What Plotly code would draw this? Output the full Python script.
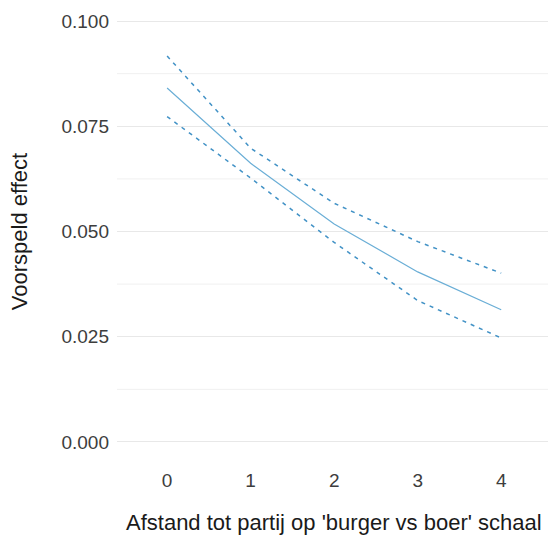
import plotly.graph_objects as go

x_vals = [0, 1, 2, 3, 4]
fit = [0.0841, 0.0662, 0.0518, 0.0404, 0.0314]
upper = [0.0917, 0.0698, 0.0567, 0.0476, 0.0401]
lower = [0.0773, 0.0627, 0.0474, 0.0336, 0.0247]
y_ticks = [0.0, 0.025, 0.05, 0.075, 0.1]
y_labels = ["0.000", "0.025", "0.050", "0.075", "0.100"]
minor_ticks = [0.0125, 0.0375, 0.0625, 0.0875]
x_title = "Afstand tot partij op 'burger vs boer' schaal"
y_title = "Voorspeld effect"

fig = go.Figure()
fig.add_trace(go.Scatter(x=x_vals, y=upper, mode="lines",
                         line=dict(color="#4292c6", width=1.5, dash="4px,5px")))
fig.add_trace(go.Scatter(x=x_vals, y=lower, mode="lines",
                         line=dict(color="#4292c6", width=1.5, dash="4px,5px")))
fig.add_trace(go.Scatter(x=x_vals, y=fit, mode="lines",
                         line=dict(color="#6aaed6", width=1.2)))

for m in minor_ticks:
    fig.add_hline(y=m, line=dict(color="#f0f0f0", width=1), layer="below")

fig.add_annotation(text=x_title, xref="paper", yref="paper", x=0.5046, y=-0.129,
                   xanchor="center", yanchor="middle", showarrow=False,
                   font=dict(size=22, color="#1a1a1a"))

font_family = "Liberation Sans, Arial, sans-serif"
fig.update_layout(
    width=548, height=535,
    margin=dict(l=117, r=0, t=0, b=72, autoexpand=False),
    paper_bgcolor="white", plot_bgcolor="white",
    showlegend=False,
    font=dict(family=font_family, color="#3d3d3d", size=19),
    xaxis=dict(range=[-0.6, 4.56], tickvals=x_vals, ticktext=[str(v) for v in x_vals],
               showgrid=False, zeroline=False, showline=False, ticks="",
               tickfont=dict(size=19, color="#3d3d3d"), ticklabelstandoff=4),
    yaxis=dict(range=[-0.005, 0.105], tickvals=y_ticks, ticktext=y_labels,
               showgrid=True, gridcolor="#e8e8e8", gridwidth=1, zeroline=False,
               showline=False, ticks="", tickfont=dict(size=19, color="#3d3d3d"),
               ticklabelstandoff=7,
               title=dict(text=y_title, font=dict(size=22, color="#1a1a1a"),
                          standoff=27)),
)

fig.write_html("out.html", config={"displayModeBar": False},
               post_script="document.body.style.margin='0';document.body.style.overflow='hidden';")
